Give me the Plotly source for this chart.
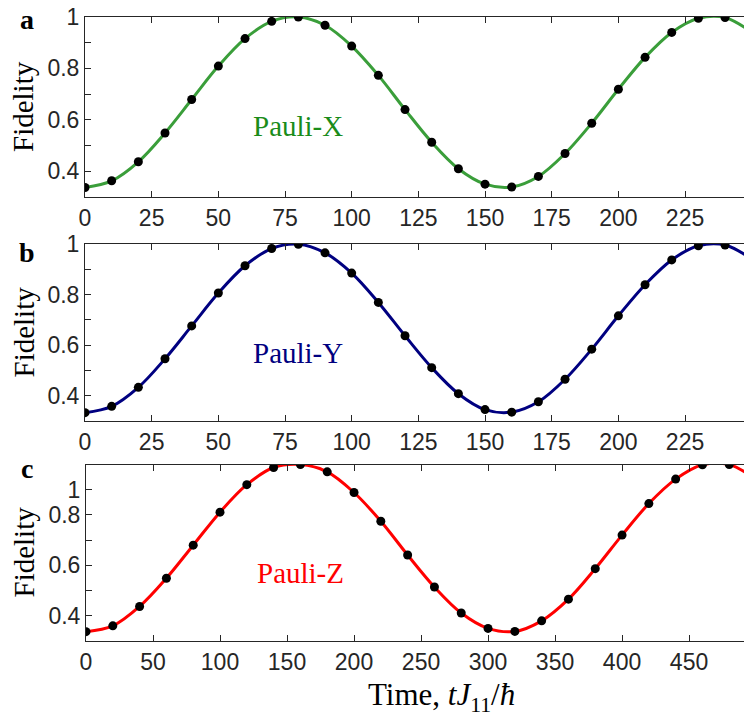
import plotly.graph_objects as go

# ---------------- data ----------------
t_xy = list(range(0, 250, 10))          # time grid of dots, panels a & b
t_z = list(range(0, 500, 20))           # time grid of dots, panel c

fid_x = [0.337, 0.363, 0.437, 0.549, 0.679, 0.809, 0.916, 0.983, 1.000, 0.968,
         0.887, 0.773, 0.640, 0.513, 0.410, 0.350, 0.339, 0.380, 0.469, 0.587,
         0.719, 0.843, 0.940, 0.995, 0.998]
fid_y = [0.333, 0.358, 0.433, 0.546, 0.676, 0.806, 0.914, 0.982, 0.999, 0.965,
         0.885, 0.769, 0.637, 0.511, 0.408, 0.345, 0.335, 0.376, 0.465, 0.584,
         0.716, 0.839, 0.937, 0.993, 0.996]
fid_z = [0.337, 0.360, 0.437, 0.549, 0.680, 0.811, 0.920, 0.988, 1.000, 0.971,
         0.889, 0.775, 0.641, 0.514, 0.411, 0.350, 0.338, 0.380, 0.466, 0.587,
         0.720, 0.845, 0.942, 0.999, 1.000]

# curve continues past the last dot (cut by the axis)
t_tail_xy, fid_tail_xy = 250, 0.940
t_tail_z, fid_tail_z = 500, 0.940

x_ticks_xy = [0, 25, 50, 75, 100, 125, 150, 175, 200, 225]
x_ticks_z = [0, 50, 100, 150, 200, 250, 300, 350, 400, 450]
y_tickvals = [0.4, 0.6, 0.8, 1.0]
y_ticktext = ["0.4", "0.6", "0.8", "1"]
y_minor = [0.5, 0.7, 0.9]
# panel c: labels as printed in the reference
y_tickvals_c = [0.4, 0.6, 0.8, 0.9]
y_ticktext_c = ["0.4", "0.6", "0.8", "1"]
y_minor_c = [0.5, 0.7]

labels = ["Pauli-X", "Pauli-Y", "Pauli-Z"]
colors = ["#3a9e3a", "#000080", "#ff0000"]
text_colors = ["#1a8c1a", "#000080", "#ff0000"]

# ---------------- figure ----------------
W, H = 744, 717
fig = go.Figure()

panels = [
    (t_xy, fid_x, t_tail_xy, fid_tail_xy, "x", "y"),
    (t_xy, fid_y, t_tail_xy, fid_tail_xy, "x2", "y2"),
    (t_z, fid_z, t_tail_z, fid_tail_z, "x3", "y3"),
]
for i, (tt, ff, tt_end, ff_end, xa, ya) in enumerate(panels):
    fig.add_trace(go.Scatter(
        x=tt + [tt_end], y=ff + [ff_end], mode="lines",
        line=dict(color=colors[i], width=3, shape="spline", smoothing=1.0),
        xaxis=xa, yaxis=ya, showlegend=False, hoverinfo="skip"))
    fig.add_trace(go.Scatter(
        x=tt, y=ff, mode="markers",
        marker=dict(color="black", size=9),
        xaxis=xa, yaxis=ya, showlegend=False))

axc = "#262626"
tickfont = dict(family="Liberation Sans, Arial, sans-serif", size=23, color=axc)
serif = "Liberation Serif, Times New Roman, serif"


def px_to_paper_y(py):
    return 1 - py / H


def xax(domain_left, rng, ticks, anchor):
    return dict(domain=[domain_left / W, 1], range=rng, anchor=anchor,
                tickvals=ticks, ticktext=[str(v) for v in ticks],
                showline=True, linecolor=axc, linewidth=1, mirror="ticks",
                ticks="inside", ticklen=6, tickcolor=axc, tickwidth=1,
                showgrid=False, zeroline=False, tickfont=tickfont,
                automargin=False)


def yax(top, bottom, tv, tt, minor, anchor):
    return dict(domain=[px_to_paper_y(bottom), px_to_paper_y(top)],
                range=[0.3, 1.0], anchor=anchor,
                tickvals=tv, ticktext=tt,
                minor=dict(tickvals=minor, ticks="inside", ticklen=6,
                           tickcolor=axc, tickwidth=1, showgrid=False),
                showline=True, linecolor=axc, linewidth=1, mirror=False,
                ticks="inside", ticklen=6, tickcolor=axc, tickwidth=1,
                showgrid=False, zeroline=False, tickfont=tickfont,
                automargin=False)


fig.update_layout(
    template="none",
    width=W, height=H,
    margin=dict(l=0, r=0, t=0, b=0, pad=0, autoexpand=False),
    paper_bgcolor="white", plot_bgcolor="white",
    xaxis=xax(85, [0, 247.1], x_ticks_xy, "y"),
    yaxis=yax(17, 197, y_tickvals, y_ticktext, y_minor, "x"),
    xaxis2=xax(85, [0, 247.1], x_ticks_xy, "y2"),
    yaxis2=yax(244, 421, y_tickvals, y_ticktext, y_minor, "x2"),
    xaxis3=xax(86, [0, 491], x_ticks_z, "y3"),
    yaxis3=yax(464.5, 641, y_tickvals_c, y_ticktext_c, y_minor_c, "x3"),
)

ann = []
# panel letters
for letter, py in zip(["a", "b", "c"], [20, 253, 468]):
    ann.append(dict(text="<b>%s</b>" % letter, x=27 / W, y=px_to_paper_y(py),
                    xref="paper", yref="paper", showarrow=False,
                    font=dict(family=serif, size=28, color="black"),
                    xanchor="center", yanchor="middle"))
# y titles
for py in [107, 332.5, 552.5]:
    ann.append(dict(text="Fidelity", x=23 / W, y=px_to_paper_y(py),
                    xref="paper", yref="paper", showarrow=False, textangle=-90,
                    font=dict(family=serif, size=29, color="black"),
                    xanchor="center", yanchor="middle"))
# curve labels
for i, (xa, ya, xv, yv) in enumerate([("x", "y", 80, 0.575),
                                       ("x2", "y2", 80, 0.57),
                                       ("x3", "y3", 160, 0.57)]):
    ann.append(dict(text=labels[i], x=xv, y=yv, xref=xa, yref=ya,
                    showarrow=False,
                    font=dict(family=serif, size=29, color=text_colors[i]),
                    xanchor="center", yanchor="middle"))
# x title
ann.append(dict(text="Time, <i>tJ</i><sub>11</sub>/<i>ħ</i>", x=441 / W,
                y=px_to_paper_y(697), xref="paper", yref="paper",
                showarrow=False, font=dict(family=serif, size=31, color="black"),
                xanchor="center", yanchor="middle"))
fig.update_layout(annotations=ann)

fig.write_html("out.html")
